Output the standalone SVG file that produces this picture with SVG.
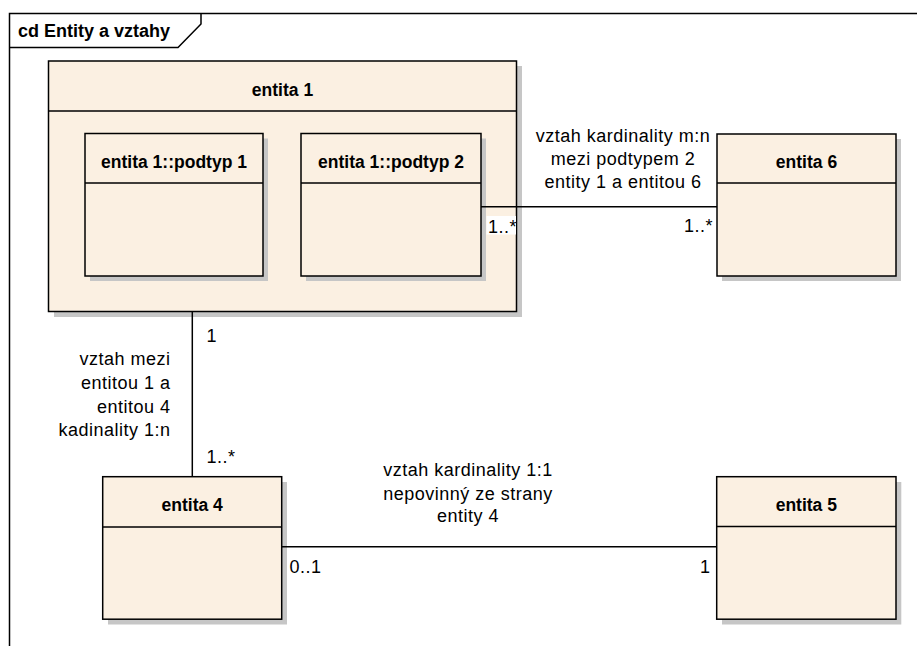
<svg xmlns="http://www.w3.org/2000/svg" width="917" height="646" viewBox="0 0 917 646">
<style>
.frame{fill:none;stroke:#000;stroke-width:1.5}
.shadow{fill:#c6c6c6}
.box{fill:#fbf0e2;stroke:#000;stroke-width:1.5}
.sep{stroke:#000;stroke-width:1.5}
.conn{stroke:#000;stroke-width:1.5;fill:none}
.name{font-family:"Liberation Sans",Arial,sans-serif;font-weight:bold;font-size:17.5px;fill:#000;text-anchor:middle}
.title{font-family:"Liberation Sans",Arial,sans-serif;font-weight:bold;font-size:18px;fill:#000}
.lbl{font-family:"Liberation Sans",Arial,sans-serif;font-size:18px;letter-spacing:0.5px;fill:#000}
.mid{text-anchor:middle}
.end{text-anchor:end}
</style>
<rect width="917" height="646" fill="#fff"/>
<g id="frame">
<polyline class="frame" points="9.5,660 9.5,13.5 930,13.5"/>
<polyline class="frame" points="9.5,47.5 178,47.5 201,24 201,13.5"/>
<text class="title" x="18" y="37">cd Entity a vztahy</text>
</g>
<g id="entita1">
<rect class="shadow" x="54" y="66" width="468" height="251"/>
<rect class="box" x="48.5" y="61" width="468" height="250.5"/>
<line class="sep" x1="48.5" y1="111" x2="516.5" y2="111"/>
<text class="name" x="282.5" y="95.5">entita 1</text>
</g>
<g id="podtyp1">
<rect class="shadow" x="90" y="138.5" width="178" height="142.5"/>
<rect class="box" x="85" y="133.5" width="178" height="142.5"/>
<line class="sep" x1="85" y1="183" x2="263" y2="183"/>
<text class="name" x="174" y="168">entita 1::podtyp 1</text>
</g>
<g id="podtyp2">
<rect class="shadow" x="306" y="138.5" width="180" height="142.5"/>
<rect class="box" x="301" y="133.5" width="180" height="142.5"/>
<line class="sep" x1="301" y1="183" x2="481" y2="183"/>
<text class="name" x="391" y="168">entita 1::podtyp 2</text>
</g>
<g id="entita6">
<rect class="shadow" x="722" y="139" width="179" height="142"/>
<rect class="box" x="717" y="134" width="179" height="142"/>
<line class="sep" x1="717" y1="183" x2="896" y2="183"/>
<text class="name" x="806.5" y="168.3">entita 6</text>
</g>
<g id="entita4">
<rect class="shadow" x="108" y="482" width="179" height="142.5"/>
<rect class="box" x="102.7" y="476.7" width="179" height="142.5"/>
<line class="sep" x1="102.7" y1="527" x2="281.7" y2="527"/>
<text class="name" x="192.2" y="511">entita 4</text>
</g>
<g id="entita5">
<rect class="shadow" x="722" y="482" width="179.3" height="142.5"/>
<rect class="box" x="716.7" y="476.7" width="179.3" height="142.5"/>
<line class="sep" x1="716.7" y1="526.5" x2="896" y2="526.5"/>
<text class="name" x="806.3" y="510.7">entita 5</text>
</g>
<g id="connectors">
<line class="conn" x1="481" y1="206.7" x2="717" y2="206.7"/>
<line class="conn" x1="192.3" y1="311.5" x2="192.3" y2="476.7"/>
<line class="conn" x1="281.7" y1="546.7" x2="716.7" y2="546.7"/>
<rect x="486.5" y="216" width="29.5" height="18.5" fill="#fff"/>
<text class="lbl" x="488" y="232.7">1..*</text>
<text class="lbl" x="684" y="231.7">1..*</text>
<text class="lbl mid" x="623" y="141.7">vztah kardinality m:n</text>
<text class="lbl mid" x="623" y="165">mezi podtypem 2</text>
<text class="lbl mid" x="623" y="188.3">entity 1 a entitou 6</text>
<text class="lbl" x="206.5" y="341.7">1</text>
<text class="lbl" x="206.5" y="463.3">1..*</text>
<text class="lbl end" x="170.5" y="365">vztah mezi</text>
<text class="lbl end" x="170.5" y="389">entitou 1 a</text>
<text class="lbl end" x="170.5" y="412.5">entitou 4</text>
<text class="lbl end" x="170.5" y="436">kadinality 1:n</text>
<text class="lbl mid" x="468" y="476">vztah kardinality 1:1</text>
<text class="lbl mid" x="468" y="499.5">nepovinný ze strany</text>
<text class="lbl mid" x="468" y="522">entity 4</text>
<text class="lbl" x="289.5" y="572.7">0..1</text>
<text class="lbl" x="700" y="572.7">1</text>
</g>
</svg>
